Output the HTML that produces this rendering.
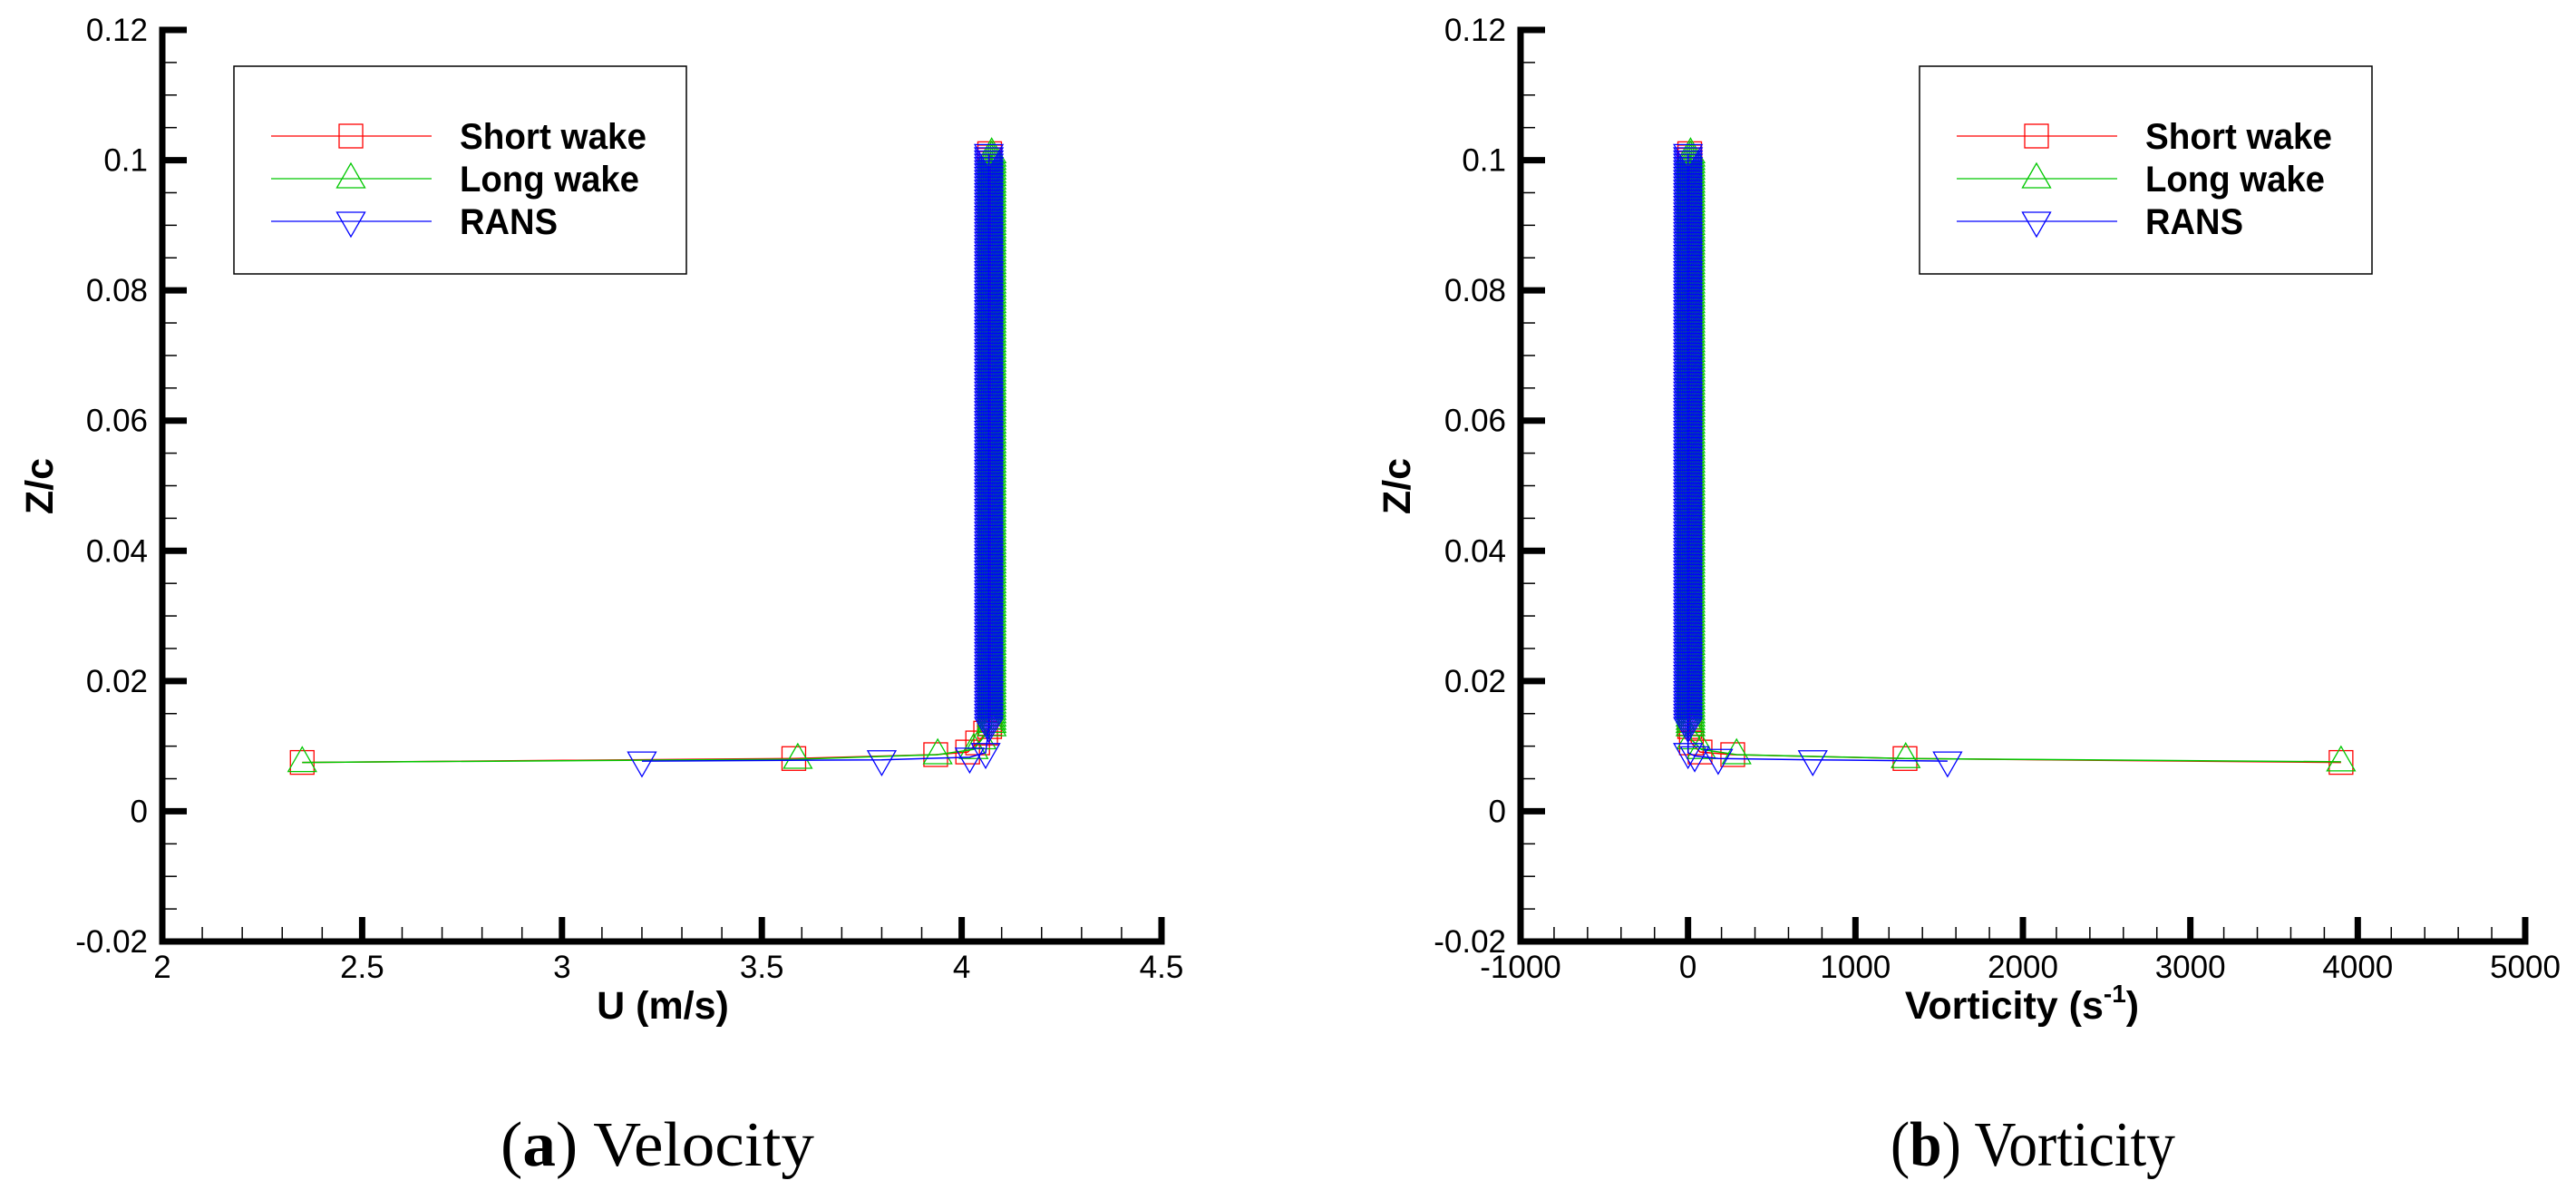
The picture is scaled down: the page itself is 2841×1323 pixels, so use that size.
<!DOCTYPE html>
<html><head><meta charset="utf-8"><style>
html,body{margin:0;padding:0;background:#fff;}
svg{display:block;}
text{font-family:"Liberation Sans",sans-serif;}
</style></head><body>
<svg id="fig" xmlns="http://www.w3.org/2000/svg" width="2841" height="1323" viewBox="0 0 2841 1323">
<rect x="0" y="0" width="2841" height="1323" fill="#fff"/>
<g id="panelA"></g>
<g id="panelB"></g>
<text x="552" y="1285" font-size="70" style="font-family:'Liberation Serif',serif" textLength="346" lengthAdjust="spacingAndGlyphs">(<tspan font-weight="bold">a</tspan>) Velocity</text>
<text x="2085" y="1285" font-size="70" style="font-family:'Liberation Serif',serif" textLength="314" lengthAdjust="spacingAndGlyphs">(<tspan font-weight="bold">b</tspan>) Vorticity</text>
</svg>
<script>
const NS = "http://www.w3.org/2000/svg";
// shared column heights (Z/c)
const colZ = [0.0130,0.0135,0.0140,0.0145,0.0150,0.0155,0.0160,0.0165,0.0170,0.0175,0.0180,0.0185,0.0190,0.0195,0.0200,0.0205,0.0210,0.0215,0.0220,0.0225,0.0230,0.0235,0.0240,0.0245,0.0250,0.0255,0.0260,0.0265,0.0270,0.0275,0.0280,0.0285,0.0290,0.0295,0.0300,0.0305,0.0310,0.0315,0.0320,0.0325,0.0330,0.0335,0.0340,0.0345,0.0350,0.0355,0.0360,0.0365,0.0370,0.0375,0.0380,0.0385,0.0390,0.0395,0.0400,0.0405,0.0410,0.0415,0.0420,0.0425,0.0430,0.0435,0.0440,0.0445,0.0450,0.0455,0.0460,0.0465,0.0470,0.0475,0.0480,0.0485,0.0490,0.0495,0.0500,0.0505,0.0510,0.0515,0.0520,0.0525,0.0530,0.0535,0.0540,0.0545,0.0550,0.0555,0.0560,0.0565,0.0570,0.0575,0.0580,0.0585,0.0590,0.0595,0.0600,0.0605,0.0610,0.0615,0.0620,0.0625,0.0630,0.0635,0.0640,0.0645,0.0650,0.0655,0.0660,0.0665,0.0670,0.0675,0.0680,0.0685,0.0690,0.0695,0.0700,0.0705,0.0710,0.0715,0.0720,0.0725,0.0730,0.0735,0.0740,0.0745,0.0750,0.0755,0.0760,0.0765,0.0770,0.0775,0.0780,0.0785,0.0790,0.0795,0.0800,0.0805,0.0810,0.0815,0.0820,0.0825,0.0830,0.0835,0.0840,0.0845,0.0850,0.0855,0.0860,0.0865,0.0870,0.0875,0.0880,0.0885,0.0890,0.0895,0.0900,0.0905,0.0910,0.0915,0.0920,0.0925,0.0930,0.0935,0.0940,0.0945,0.0950,0.0955,0.0960,0.0965,0.0970,0.0975,0.0980,0.0985,0.0990,0.0995,0.1000,0.1005,0.1010];
// Panel a: velocity
const uShortLow = [2.35,3.58,3.935,4.015,4.04,4.06];
const zShortLow = [0.0075,0.0081,0.0087,0.0091,0.0105,0.012];
const uShortCol = 4.07;
const uLongLow = [2.35,3.59,3.94,4.03,4.05];
const zLongLow = [0.0075,0.0080,0.0087,0.0095,0.011];
const uLongCol = 4.075;
const uRansLow = [3.20,3.80,4.02,4.06];
const zRansLow = [0.0077,0.0079,0.0083,0.009];
const uRansCol = 4.068;
const xTicksA = ["2","2.5","3","3.5","4","4.5"];
// Panel b: vorticity
const wShortLow = [3900,1296,267,72,20];
const wzShortLow = [0.0075,0.0081,0.0087,0.0091,0.0105];
const wShortCol = 10;
const wLongLow = [3900,1300,290,80,20];
const wzLongLow = [0.0076,0.0081,0.0087,0.0095,0.011];
const wLongCol = 15;
const wRansLow = [1550,745,180,40,0];
const wzRansLow = [0.0077,0.0079,0.0081,0.0085,0.009];
const wRansCol = 0;
const xTicksB = ["-1000","0","1000","2000","3000","4000","5000"];
const yTicks = ["-0.02","0","0.02","0.04","0.06","0.08","0.1","0.12"];

function el(parent, tag, attrs, txt){
  const e = document.createElementNS(NS, tag);
  for (const k in attrs) e.setAttribute(k, attrs[k]);
  if (txt !== undefined) e.textContent = txt;
  parent.appendChild(e); return e;
}
const COLORS = {short:"#ff0000", long:"#00c800", rans:"#0000ff"};

function marker(g, kind, cx, cy, name){
  let m;
  if (kind === "short") m = el(g,"rect",{x:cx-13,y:cy-13,width:26,height:26,fill:"none",stroke:COLORS.short,"stroke-width":1.3});
  else if (kind === "long") m = el(g,"polygon",{points:`${cx},${cy-17} ${cx-15.5},${cy+10} ${cx+15.5},${cy+10}`,fill:"none",stroke:COLORS.long,"stroke-width":1.3});
  else m = el(g,"polygon",{points:`${cx},${cy+17} ${cx-15.5},${cy-10} ${cx+15.5},${cy-10}`,fill:"none",stroke:COLORS.rans,"stroke-width":1.3});
  
  
}

function panel(g, x0, x1, xmin, xmax, xTicks, xMajor, xMinorN, series, xTitle, legendX, titleCx, ztitleX){
  const y0 = 33, y1 = 1038, ymin = -0.02, ymax = 0.12;
  const sx = v => x0 + (v - xmin) / (xmax - xmin) * (x1 - x0);
  const sy = v => y1 - (v - ymin) / (ymax - ymin) * (y1 - y0);
  series.forEach(s => {
    const sg = el(g,"g",{});
    
    
    const pts = [];
    s.lowX.forEach((v,i) => pts.push([sx(v), sy(s.lowZ[i])]));
    colZ.forEach(z => pts.push([sx(s.colX), sy(z)]));
    const pl = el(sg,"polyline",{points:pts.map(p=>p.join(",")).join(" "),fill:"none",stroke:COLORS[s.kind],"stroke-width":1.5});
    
    
    pts.forEach(p => marker(sg, s.kind, p[0], p[1], s.kind + '-marker'));
  });
  const ax = el(g,"g",{});
  
  
  el(ax,"line",{x1:x0,y1:y0-3.5,x2:x0,y2:y1+3.5,stroke:"#000","stroke-width":7});
  el(ax,"line",{x1:x0-3.5,y1:y1,x2:x1+3.5,y2:y1,stroke:"#000","stroke-width":7});
  yTicks.forEach((t,i) => {
    const v = ymin + i*0.02, y = sy(v);
    el(ax,"line",{x1:x0,y1:y,x2:x0+27,y2:y,stroke:"#000","stroke-width":7});
    const tl = el(ax,"text",{x:x0-16,y:y+12,"font-size":35,"text-anchor":"end"},t);
    
    
    if (i < yTicks.length-1) for (let k=1;k<4;k++){
      const ym = sy(v + k*0.005);
      el(ax,"line",{x1:x0,y1:ym,x2:x0+16,y2:ym,stroke:"#000","stroke-width":1.5});
    }
  });
  xTicks.forEach((t,i) => {
    const v = xmin + i*xMajor, x = sx(v);
    el(ax,"line",{x1:x,y1:y1,x2:x,y2:y1-27,stroke:"#000","stroke-width":7});
    const tl = el(ax,"text",{x:x,y:1078,"font-size":35,"text-anchor":"middle"},t);
    
    
    if (i < xTicks.length-1) for (let k=1;k<xMinorN;k++){
      const xm = sx(v + k*xMajor/xMinorN);
      el(ax,"line",{x1:xm,y1:y1,x2:xm,y2:y1-16,stroke:"#000","stroke-width":1.5});
    }
  });
  const yt = el(g,"text",{x:0,y:0,"font-size":43,"font-weight":"bold","text-anchor":"middle",transform:`translate(${ztitleX},536) rotate(-90)`},"Z/c");
  
  
  const xt = el(g,"text",{x:titleCx,y:1123,"font-size":43,"font-weight":"bold","text-anchor":"middle"});
  
  
  if (xTitle === "U") { xt.textContent = "U (m/s)"; }
  else {
    xt.appendChild(document.createTextNode("Vorticity (s"));
    el(xt,"tspan",{dy:-18,"font-size":28},"-1");
    el(xt,"tspan",{dy:18},")");
  }
  const lg = el(g,"g",{});
  
  
  el(lg,"rect",{x:legendX,y:73,width:499,height:229,fill:"#fff",stroke:"#000","stroke-width":1.5});
  const entries = [["short","Short wake",150],["long","Long wake",197],["rans","RANS",244]];
  entries.forEach(e => {
    const eg = el(lg,"g",{});
    
    
    el(eg,"line",{x1:legendX+41,y1:e[2],x2:legendX+218,y2:e[2],stroke:COLORS[e[0]],"stroke-width":1.3});
    marker(eg, e[0], legendX+129, e[2], 'legend-marker');
    const t = el(eg,"text",{x:legendX+249,y:e[2]+14,"font-size":40,"font-weight":"bold"},e[1]);
    if (e[1]==="Short wake") t.setAttribute("textLength","206");
    if (e[1]==="Long wake") t.setAttribute("textLength","198");
    if (e[1]==="RANS") t.setAttribute("textLength","108");
    t.setAttribute("lengthAdjust","spacingAndGlyphs");
  });
}

panel(document.getElementById("panelA"), 179, 1281, 2, 4.5, xTicksA, 0.5, 5, [
  {kind:"short", lowX:uShortLow, lowZ:zShortLow, colX:uShortCol},
  {kind:"long", lowX:uLongLow, lowZ:zLongLow, colX:uLongCol},
  {kind:"rans", lowX:uRansLow, lowZ:zRansLow, colX:uRansCol}
], "U", 258, 731, 58);

panel(document.getElementById("panelB"), 1677, 2785, -1000, 5000, xTicksB, 1000, 5, [
  {kind:"short", lowX:wShortLow, lowZ:wzShortLow, colX:wShortCol},
  {kind:"long", lowX:wLongLow, lowZ:wzLongLow, colX:wLongCol},
  {kind:"rans", lowX:wRansLow, lowZ:wzRansLow, colX:wRansCol}
], "W", 2117, 2230, 1555);
</script>
</body></html>
